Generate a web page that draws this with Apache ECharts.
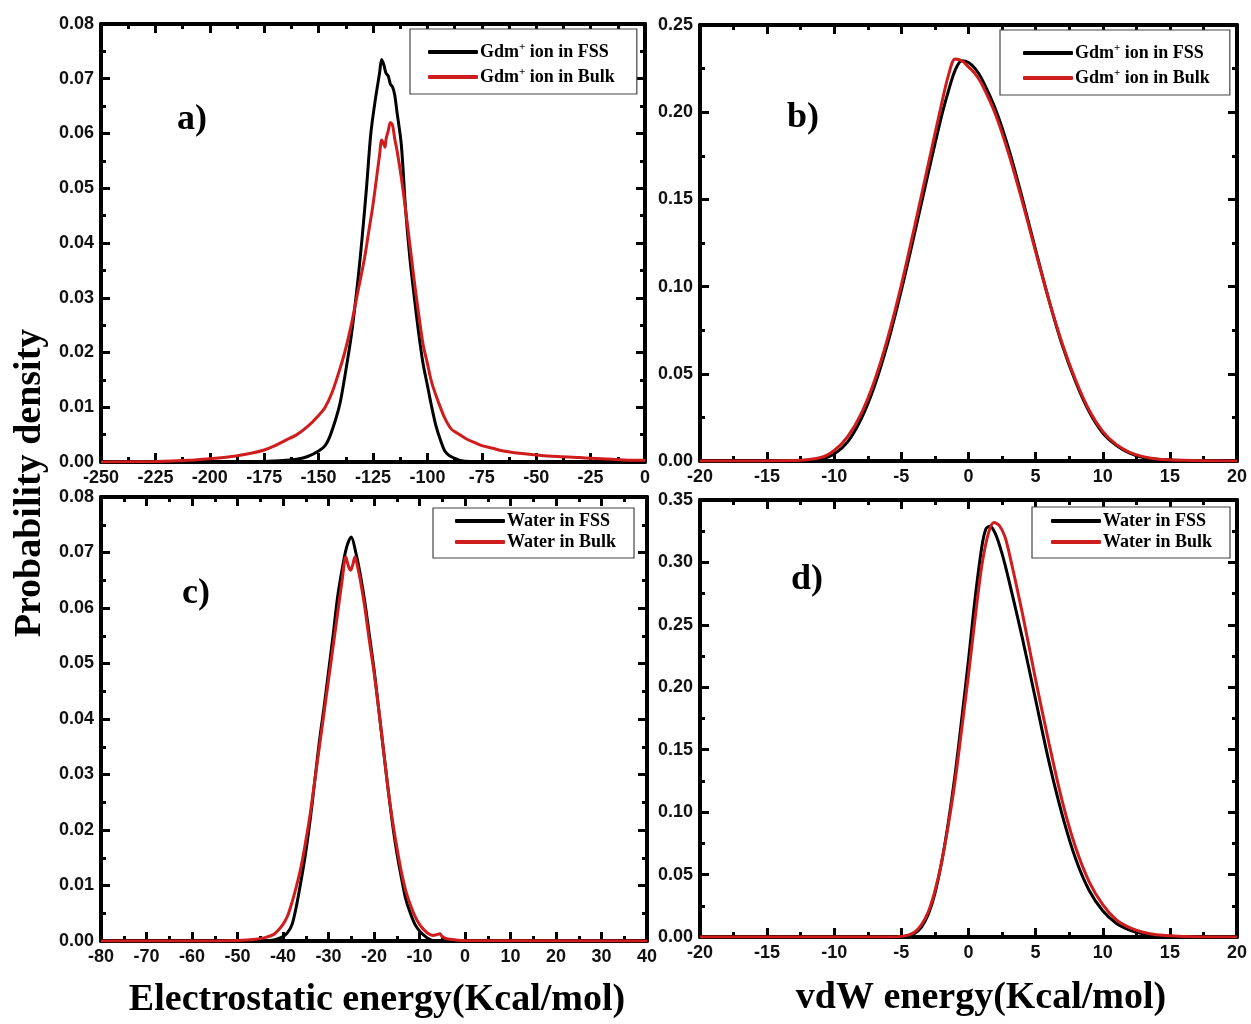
<!DOCTYPE html>
<html>
<head>
<meta charset="utf-8">
<script src="https://cdn.jsdelivr.net/npm/echarts@6/dist/echarts.min.js"></script>
<style>
  html, body { margin: 0; padding: 0; background: #ffffff; }
  #chart { width: 1251px; height: 1024px; }
</style>
</head>
<body>
<div id="chart"></div>
<script>
// ---- Probability density curves, [energy, density] pairs ----

// (a) electrostatic energy of the Gdm+ ion
const ionElecFss = [
  [-250, 0], [-200, 0], [-175, 0.0001], [-165, 0.0003], [-160, 0.0005], [-155, 0.001],
  [-150, 0.002], [-147, 0.003], [-145, 0.0045], [-142, 0.008], [-140, 0.011], [-138, 0.0155],
  [-135, 0.023], [-132, 0.033], [-130, 0.041], [-128, 0.050], [-126, 0.060], [-124, 0.066],
  [-122, 0.071], [-121, 0.0735], [-120, 0.0725], [-119, 0.071], [-118, 0.0705], [-117, 0.069],
  [-116, 0.0685], [-115, 0.067], [-114, 0.064], [-112, 0.058], [-110, 0.046], [-108, 0.037],
  [-106, 0.030], [-104, 0.0235], [-102, 0.018], [-100, 0.014], [-98, 0.010], [-96, 0.0065],
  [-94, 0.004], [-92, 0.002], [-90, 0.0012], [-87, 0.0006], [-85, 0.0003], [-80, 0.0001],
  [-70, 0], [0, 0]
];
const ionElecBulk = [
  [-250, 0], [-225, 0.0001], [-210, 0.0003], [-200, 0.0006], [-190, 0.001], [-180, 0.0017],
  [-175, 0.0022], [-170, 0.003], [-165, 0.004], [-160, 0.005], [-155, 0.0065], [-150, 0.0085],
  [-147, 0.010], [-144, 0.0125], [-141, 0.016], [-138, 0.020], [-135, 0.025], [-132, 0.031],
  [-129, 0.037], [-127, 0.042], [-125, 0.047], [-123, 0.053], [-122, 0.056], [-121, 0.0588],
  [-120, 0.058], [-119.5, 0.0575], [-119, 0.059], [-118, 0.0605], [-117, 0.062], [-116, 0.0615],
  [-115, 0.059], [-114, 0.057], [-112, 0.052], [-110, 0.046], [-108, 0.0395], [-106, 0.033],
  [-104, 0.027], [-102, 0.0215], [-100, 0.018], [-98, 0.0145], [-95, 0.011], [-92, 0.008],
  [-89, 0.006], [-86, 0.0052], [-82, 0.0042], [-78, 0.0035], [-75, 0.003], [-70, 0.0025],
  [-65, 0.002], [-60, 0.0017], [-50, 0.0013], [-40, 0.001], [-30, 0.0008], [-25, 0.0007],
  [-15, 0.0005], [-5, 0.0003], [0, 0.0003]
];

// (b) vdW energy of the Gdm+ ion
const ionVdwFss = [
  [-20, 0], [-14, 0], [-12, 0.0003], [-11, 0.001], [-10, 0.004], [-9, 0.011], [-8, 0.024],
  [-7, 0.043], [-6, 0.068], [-5, 0.098], [-4, 0.131], [-3, 0.165], [-2, 0.198], [-1.5, 0.212],
  [-1, 0.224], [-0.5, 0.2295], [0, 0.2285], [0.5, 0.225], [1, 0.219], [2, 0.202], [3, 0.179],
  [4, 0.151], [5, 0.121], [6, 0.092], [7, 0.066], [8, 0.045], [9, 0.028], [10, 0.016],
  [11, 0.009], [12, 0.0045], [13, 0.002], [14, 0.001], [16, 0.0003], [20, 0]
];
const ionVdwBulk = [
  [-20, 0], [-13, 0.0003], [-11, 0.002], [-10, 0.006], [-9, 0.014], [-8, 0.027], [-7, 0.046],
  [-6, 0.071], [-5, 0.101], [-4, 0.135], [-3, 0.170], [-2, 0.205], [-1.5, 0.221], [-1, 0.2305],
  [-0.5, 0.2295], [0, 0.226], [0.5, 0.222], [1, 0.216], [2, 0.199], [3, 0.176], [4, 0.149],
  [5, 0.12], [6, 0.092], [7, 0.067], [8, 0.046], [9, 0.029], [10, 0.017], [11, 0.0095],
  [12, 0.005], [13, 0.0025], [14, 0.0012], [16, 0.0004], [20, 0]
];

// (c) electrostatic energy of water
const waterElecFss = [
  [-80, 0], [-45, 0], [-42, 0.0002], [-40, 0.0008], [-39, 0.0015], [-38, 0.003], [-37, 0.0065],
  [-36, 0.011], [-35, 0.016], [-34, 0.022], [-33, 0.029], [-32, 0.036], [-31, 0.042],
  [-30, 0.0485], [-29, 0.055], [-28, 0.062], [-27, 0.067], [-26, 0.071], [-25, 0.0728],
  [-24, 0.070], [-23, 0.066], [-22, 0.061], [-21, 0.055], [-20, 0.049], [-19, 0.042],
  [-18, 0.035], [-17, 0.028], [-16, 0.0215], [-15, 0.016], [-14, 0.0115], [-13, 0.0075],
  [-12, 0.005], [-11, 0.003], [-10, 0.0018], [-9, 0.001], [-8, 0.0004], [-7, 0.0001],
  [-5, 0], [40, 0]
];
const waterElecBulk = [
  [-80, 0], [-60, 0], [-50, 0.0001], [-46, 0.0003], [-44, 0.0006], [-42, 0.0012], [-41, 0.002],
  [-40, 0.003], [-39, 0.0045], [-38, 0.007], [-37, 0.010], [-36, 0.0135], [-35, 0.018],
  [-34, 0.023], [-33, 0.029], [-32, 0.035], [-31, 0.041], [-30, 0.047], [-29, 0.053],
  [-28, 0.059], [-27, 0.065], [-26.2, 0.0692], [-25.6, 0.0675], [-25.1, 0.0668], [-24.6, 0.068],
  [-24.2, 0.0692], [-23.5, 0.067], [-23, 0.065], [-22, 0.060], [-21, 0.054], [-20, 0.0485],
  [-19, 0.042], [-18, 0.035], [-17, 0.028], [-16, 0.022], [-15, 0.017], [-14, 0.0125],
  [-13, 0.009], [-12, 0.0065], [-11, 0.0045], [-10, 0.003], [-9, 0.002], [-8, 0.0013],
  [-7, 0.001], [-6, 0.0012], [-5.5, 0.0013], [-5, 0.0008], [-4, 0.0004], [-2, 0.0002],
  [0, 0.0001], [40, 0]
];

// (d) vdW energy of water
const waterVdwFss = [
  [-20, 0], [-6, 0], [-5, 0.0003], [-4.5, 0.001], [-4, 0.003], [-3.5, 0.008], [-3, 0.018],
  [-2.5, 0.035], [-2, 0.060], [-1.5, 0.092], [-1, 0.130], [-0.5, 0.175], [0, 0.222], [0.5, 0.272],
  [1, 0.313], [1.3, 0.327], [1.6, 0.329], [2, 0.323], [2.5, 0.307], [3, 0.286], [4, 0.24],
  [5, 0.19], [6, 0.14], [7, 0.097], [8, 0.062], [9, 0.037], [10, 0.021], [11, 0.011],
  [12, 0.0055], [13, 0.0025], [14, 0.001], [16, 0.0002], [20, 0]
];
const waterVdwBulk = [
  [-20, 0], [-6, 0], [-5, 0.0005], [-4.5, 0.0015], [-4, 0.004], [-3.5, 0.010], [-3, 0.020],
  [-2.5, 0.037], [-2, 0.060], [-1.5, 0.090], [-1, 0.125], [-0.5, 0.167], [0, 0.21], [0.5, 0.256],
  [1, 0.298], [1.5, 0.324], [1.9, 0.332], [2.3, 0.3295], [2.7, 0.321], [3, 0.309], [4, 0.26],
  [5, 0.206], [6, 0.155], [7, 0.108], [8, 0.071], [9, 0.044], [10, 0.026], [11, 0.014],
  [12, 0.0075], [13, 0.0038], [14, 0.0018], [16, 0.0005], [20, 0]
];

// ---- Axis ranges: [min, max, interval] ----
const xRanges = [[-250, 0, 25], [-20, 20, 5], [-80, 40, 10], [-20, 20, 5]];
const yRanges = [[0, 0.08, 0.01], [0, 0.25, 0.05], [0, 0.08, 0.01], [0, 0.35, 0.05]];

const seriesNames = [
  ['Gdm+ ion in FSS', 'Gdm+ ion in Bulk'],
  ['Gdm+ ion in FSS', 'Gdm+ ion in Bulk'],
  ['Water in FSS', 'Water in Bulk'],
  ['Water in FSS', 'Water in Bulk']
];
const seriesData = [
  [ionElecFss, ionElecBulk],
  [ionVdwFss, ionVdwBulk],
  [waterElecFss, waterElecBulk],
  [waterVdwFss, waterVdwBulk]
];
const panelLabels = ['a)', 'b)', 'c)', 'd)'];

// ---- Layout ----
const grids = [
  { left: 101, top: 24, width: 544, height: 438 },
  { left: 700, top: 25, width: 537, height: 436 },
  { left: 101, top: 497, width: 546, height: 444 },
  { left: 700, top: 500, width: 537, height: 437 }
];
const labelPos = [[194, 122], [804, 120], [199, 596], [808, 582]];
const legendBoxes = [
  { left: 410, top: 29, padding: [13, 22, 8, 18] },
  { left: 1000, top: 30, padding: [13, 20, 8, 23] },
  { left: 433, top: 508, padding: [4, 18, 7, 22] },
  { left: 1032, top: 507, padding: [5, 18, 7, 19] }
];

const BLACK = '#000000';
const RED = '#cf1d1d';
const tickFont = { fontFamily: 'Liberation Sans, Arial, sans-serif', fontWeight: 'bold', fontSize: 18, color: '#111' };
const serif = 'Liberation Serif, Times New Roman, serif';

function axisBase(range, showLabel, decimals) {
  return {
    type: 'value',
    min: range[0], max: range[1], interval: range[2],
    axisLine: { show: true, onZero: false, lineStyle: { color: BLACK, width: 4 } },
    axisTick: { show: true, inside: true, length: 9, lineStyle: { color: BLACK, width: 3 } },
    minorTick: { show: true, splitNumber: 2, length: 5, lineStyle: { color: BLACK, width: 3 } },
    splitLine: { show: false },
    minorSplitLine: { show: false },
    axisLabel: Object.assign({
      show: showLabel, margin: 7,
      formatter: v => decimals ? v.toFixed(decimals) : String(v)
    }, tickFont)
  };
}

const xAxis = [], yAxis = [], series = [], legend = [], graphic = [];

grids.forEach((g, i) => {
  // bottom + top (mirror) x axes
  xAxis.push(Object.assign(axisBase(xRanges[i], true, 0), { gridIndex: i, position: 'bottom' }));
  xAxis.push(Object.assign(axisBase(xRanges[i], false, 0), { gridIndex: i, position: 'top' }));
  // left + right (mirror) y axes
  yAxis.push(Object.assign(axisBase(yRanges[i], true, 2), { gridIndex: i, position: 'left' }));
  yAxis.push(Object.assign(axisBase(yRanges[i], false, 2), { gridIndex: i, position: 'right' }));

  [BLACK, RED].forEach((c, k) => {
    series.push({
      type: 'line',
      name: seriesNames[i][k],
      xAxisIndex: 2 * i,
      yAxisIndex: 2 * i,
      data: seriesData[i][k],
      symbol: 'none',
      smooth: 0.3,
      lineStyle: { color: c, width: 3 },
      itemStyle: { color: c },
      z: k === 0 ? 3 : 4
    });
  });

  legend.push({
    data: seriesNames[i],
    left: legendBoxes[i].left,
    top: legendBoxes[i].top,
    padding: legendBoxes[i].padding,
    orient: 'vertical',
    itemGap: i < 2 ? 6 : 3,
    icon: 'roundRect',
    itemWidth: 50,
    itemHeight: 4,
    backgroundColor: '#ffffff',
    borderColor: '#444',
    borderWidth: 1.2,
    borderRadius: 0,
    selectedMode: false,
    formatter: n => n.indexOf('Gdm+') === 0
      ? '{t|Gdm}{s|+}{t|' + n.slice(4) + '}'
      : '{t|' + n + '}',
    textStyle: {
      padding: [0, 0, 0, -3],
      rich: {
        t: { fontFamily: serif, fontWeight: 'bold', fontSize: 18, color: BLACK, lineHeight: 20 },
        s: { fontFamily: serif, fontWeight: 'bold', fontSize: 11, color: BLACK, lineHeight: 11, verticalAlign: 'top' }
      }
    }
  });

  graphic.push({
    type: 'text',
    left: labelPos[i][0] - 17, top: labelPos[i][1] - 20,
    style: { text: panelLabels[i], font: 'bold 36px ' + serif, fill: BLACK }
  });
});

// Shared axis titles
graphic.push({
  type: 'text', x: 30, y: 483, rotation: Math.PI / 2,
  style: { text: 'Probability density', font: 'bold 38px ' + serif, fill: BLACK,
           textAlign: 'center', textVerticalAlign: 'middle' }
});
graphic.push({
  type: 'text', x: 377, y: 1000,
  style: { text: 'Electrostatic energy(Kcal/mol)', font: 'bold 38px ' + serif, fill: BLACK,
           textAlign: 'center', textVerticalAlign: 'middle' }
});
graphic.push({
  type: 'text', x: 981, y: 998,
  style: { text: 'vdW energy(Kcal/mol)', font: 'bold 38px ' + serif, fill: BLACK,
           textAlign: 'center', textVerticalAlign: 'middle' }
});

const chart = echarts.init(document.getElementById('chart'), null, { renderer: 'canvas' });
chart.setOption({
  backgroundColor: '#ffffff',
  animation: false,
  grid: grids.map(g => Object.assign({ containLabel: false }, g)),
  xAxis: xAxis,
  yAxis: yAxis,
  legend: legend,
  series: series,
  graphic: graphic
});
</script>
</body>
</html>
